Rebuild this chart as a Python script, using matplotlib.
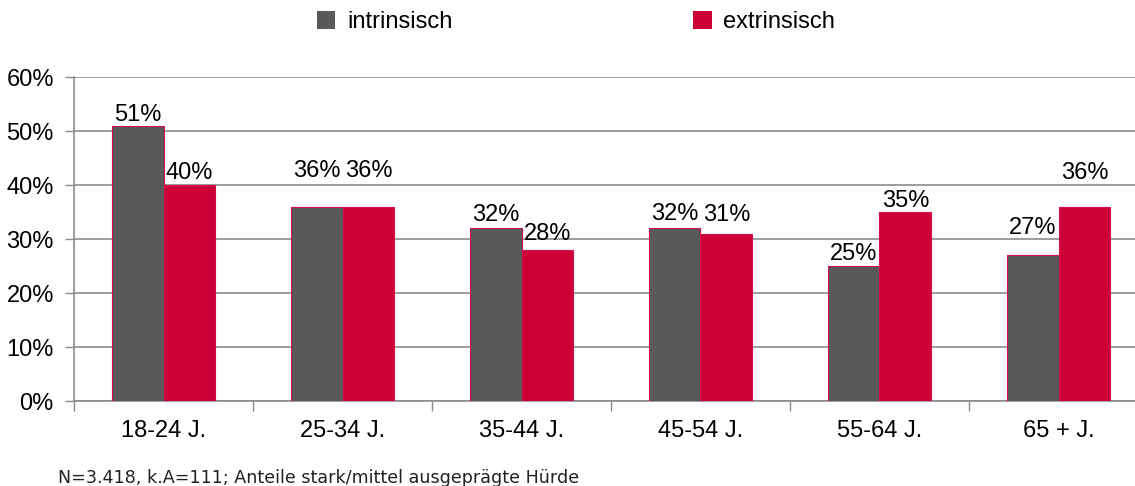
import numpy as np
import matplotlib.pyplot as plt
from matplotlib.patches import Patch

categories = ["18-24 J.", "25-34 J.", "35-44 J.", "45-54 J.", "55-64 J.", "65 + J."]
intrinsisch = [51, 36, 32, 32, 25, 27]
extrinsisch = [40, 36, 28, 31, 35, 36]
series_names = ["intrinsisch", "extrinsisch"]
footnote = "N=3.418, k.A=111; Anteile stark/mittel ausgeprägte Hürde"

# label gaps above bar top (pixels), as placed in the original
gap_intr = [5, 30, 7, 8, 6, 21]
gap_extr = [6, 30, 10, 13, 5, 28]

gray = "#59595b"
red = "#cc0036"
edge = "#d0104a"
grid_col = "#8c8c8c"

plt.rcParams['font.family'] = ['Liberation Sans', 'DejaVu Sans']

fig = plt.figure(figsize=(11.35, 4.86), dpi=100)
ax = fig.add_axes([74 / 1135, 1 - 401 / 486, (1135 - 74) / 1135, (401 - 77) / 486])

x = np.arange(len(categories))
w = 0.29
b1 = ax.bar(x - w / 2, intrinsisch, w, color=gray, edgecolor=edge, linewidth=0.8, zorder=3)
b2 = ax.bar(x + w / 2, extrinsisch, w, color=red, edgecolor=edge, linewidth=0.8, zorder=3)

for bars, vals, gaps in [(b1, intrinsisch, gap_intr), (b2, extrinsisch, gap_extr)]:
    for bar, v, g in zip(bars, vals, gaps):
        ax.annotate(f"{v}%", (bar.get_x() + bar.get_width() / 2, v),
                    xytext=(0, g), textcoords='offset pixels',
                    ha='center', va='baseline', fontsize=17, color='black', zorder=4)

ax.set_yticks(np.arange(0, 61, 10))
ax.set_yticklabels([f"{t}%" for t in range(0, 61, 10)])

ax.set_xticks(np.arange(len(categories) + 1) - 0.5)
ax.set_xticklabels([])
ax.set_xticks(x, minor=True)
ax.set_xticklabels(categories, minor=True)
ax.tick_params(axis='x', which='minor', length=0, pad=14, labelsize=17)
ax.tick_params(axis='x', which='major', length=7, width=1, color=grid_col, direction='out')
ax.tick_params(axis='y', length=6.5, width=1, color=grid_col, pad=8, labelsize=17)

# limits after ticks, so the right edge cuts the last group like the original
ax.set_ylim(0, 60)
ax.set_xlim(-0.5, -0.5 + (1135 - 74) / 179)

ax.yaxis.grid(True, color=grid_col, linewidth=1.2, zorder=0)
ax.set_axisbelow(True)
for s in ['top', 'right']:
    ax.spines[s].set_visible(False)
for s in ['left', 'bottom']:
    ax.spines[s].set_color(grid_col)
    ax.spines[s].set_linewidth(1.2)

handles = [Patch(facecolor=gray, edgecolor='none'), Patch(facecolor=red, edgecolor='none')]
fig.legend(handles, series_names, loc='center', bbox_to_anchor=(576 / 1135, 1 - 22 / 486),
           ncol=2, frameon=False, fontsize=17, handlelength=0.78, handleheight=0.78,
           handletextpad=0.5, columnspacing=10.2, borderaxespad=0, borderpad=0)

fig.text(58 / 1135, 1 - 478 / 486, footnote, fontsize=12.6, family='DejaVu Sans',
         ha='left', va='center', color='#222222')

fig.savefig("out.png", dpi=100)
